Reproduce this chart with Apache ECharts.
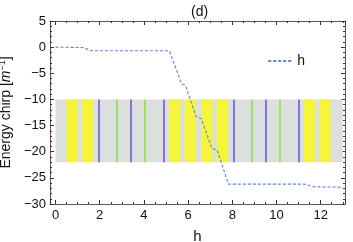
<!DOCTYPE html>
<html><head><meta charset="utf-8">
<script src="https://cdn.jsdelivr.net/npm/echarts@6/dist/echarts.min.js"></script>
<style>html,body{margin:0;padding:0;background:#fff}#c{width:353px;height:242px}</style>
</head><body><div id="c"></div>
<script>
// series "h"
const hX = [0, 0.5, 1.0, 1.25, 1.65, 5.15, 5.7, 5.88, 6.36, 6.6, 7.08, 7.32, 7.82, 11.25, 11.7, 12.45, 13.0];
const hY = [0, -0.03, -0.06, -0.08, -0.7, -0.7, -7.0, -7.3, -13.3, -13.7, -19.4, -19.7, -26.2, -26.2, -26.7, -26.75, -26.8];
// band structure
const bandX = [0, 13];
const bandY = [-22, -10];
const yellowStart = [0.5, 1.2, 5.15, 5.85, 6.6, 7.3, 11.25, 11.95];
const yellowEnd   = [1.0, 1.7, 5.65, 6.35, 7.1, 7.8, 11.75, 12.45];
const blueLines  = [1.95, 3.4, 4.9, 8.05, 9.5, 11.0];
const greenLines = [2.77, 4.06, 8.87, 10.16];
// axes
const xMin = -0.25, xMax = 13.1, yMin = -30, yMax = 5;

const font = 'Liberation Sans, Arial, sans-serif';
const frame = '#6e4f52';
const minus = v => String(v).replace('-', '\u2212');

const chart = echarts.init(document.getElementById('c'), null, {renderer: 'canvas'});

const yellowAreas = yellowStart.map((s, i) => [
  {xAxis: s, yAxis: bandY[0], itemStyle: {color: '#f6f53a', opacity: 1}},
  {xAxis: yellowEnd[i], yAxis: bandY[1]}
]);
const vLines = [];
blueLines.forEach(x => vLines.push([{coord: [x, bandY[0]], lineStyle: {color: '#6a4fe0'}}, {coord: [x, bandY[1]]}]));
greenLines.forEach(x => vLines.push([{coord: [x, bandY[0]], lineStyle: {color: '#88e03c'}}, {coord: [x, bandY[1]]}]));

const axisCommon = {
  axisLine: {show: true, onZero: false, lineStyle: {color: frame, width: 1}},
  axisTick: {show: true, inside: true, length: 4, lineStyle: {color: '#333', width: 1}},
  minorTick: {show: true, length: 2, lineStyle: {color: '#333', width: 1}},
  splitLine: {show: false},
  minorSplitLine: {show: false}
};

chart.setOption({
  animation: false,
  title: {text: '(d)', left: 186, top: 0, textStyle: {fontFamily: font, fontSize: 14, fontWeight: 'normal', color: '#111'}},
  legend: {
    data: ['h'], right: 43, top: 49, itemWidth: 24, itemHeight: 10, itemGap: 6,
    itemStyle: {color: 'rgba(0,0,0,0)', borderWidth: 0},
    textStyle: {fontFamily: font, fontSize: 14, color: '#111'}
  },
  grid: {left: 50, right: 8, top: 21, bottom: 38, containLabel: false, outerBoundsMode: 'none'},
  xAxis: [
    Object.assign({}, axisCommon, {
      type: 'value', min: xMin, max: xMax, splitNumber: 7, position: 'bottom',
      name: 'h', nameLocation: 'middle', nameGap: 25,
      nameTextStyle: {fontFamily: font, fontSize: 15, color: '#111'},
      minorTick: Object.assign({}, axisCommon.minorTick, {splitNumber: 4}),
      axisLabel: {show: true, showMinLabel: false, showMaxLabel: false, margin: 5, fontFamily: font, fontSize: 13, color: '#111', formatter: minus}
    }),
    Object.assign({}, axisCommon, {
      type: 'value', min: xMin, max: xMax, splitNumber: 7, position: 'top',
      minorTick: Object.assign({}, axisCommon.minorTick, {splitNumber: 4}),
      axisLabel: {show: false}
    })
  ],
  yAxis: [
    Object.assign({}, axisCommon, {
      type: 'value', min: yMin, max: yMax, interval: 5, position: 'left',
      name: '{n|Energy chirp [}{i|m}{s|\u22121}{n|]}', nameLocation: 'middle', nameGap: 31,
      nameTextStyle: {
        fontFamily: font, fontSize: 14, color: '#111',
        rich: {
          n: {fontFamily: font, fontSize: 14, color: '#111'},
          i: {fontFamily: font, fontSize: 14, fontStyle: 'italic', color: '#111'},
          s: {fontFamily: font, fontSize: 9, color: '#111', verticalAlign: 'top', padding: [0, 0, 8, 0]}
        }
      },
      minorTick: Object.assign({}, axisCommon.minorTick, {splitNumber: 5}),
      axisLabel: {show: true, margin: 4, fontFamily: font, fontSize: 13, color: '#111', formatter: minus}
    }),
    Object.assign({}, axisCommon, {
      type: 'value', min: yMin, max: yMax, interval: 5, position: 'right',
      minorTick: Object.assign({}, axisCommon.minorTick, {splitNumber: 5}),
      axisLabel: {show: false}
    })
  ],
  series: [
    {
      name: 'band', type: 'line', data: [], xAxisIndex: 0, yAxisIndex: 0, silent: true, z: 1,
      markArea: {
        silent: true,
        data: [[{xAxis: bandX[0], yAxis: bandY[0], itemStyle: {color: '#dbe0df', opacity: 1}}, {xAxis: bandX[1], yAxis: bandY[1]}]].concat(yellowAreas)
      },
      markLine: {silent: true, symbol: ['none', 'none'], label: {show: false}, lineStyle: {type: 'solid', width: 1.5}, data: vLines}
    },
    {
      name: 'h', type: 'line', xAxisIndex: 0, yAxisIndex: 0, z: 5,
      data: hX.map((x, i) => [x, hY[i]]),
      symbol: 'none', showSymbol: false,
      lineStyle: {color: '#5a7ff0', width: 1.1, type: [3, 2]},
      itemStyle: {color: '#5a7ff0'}
    }
  ]
});
</script></body></html>
